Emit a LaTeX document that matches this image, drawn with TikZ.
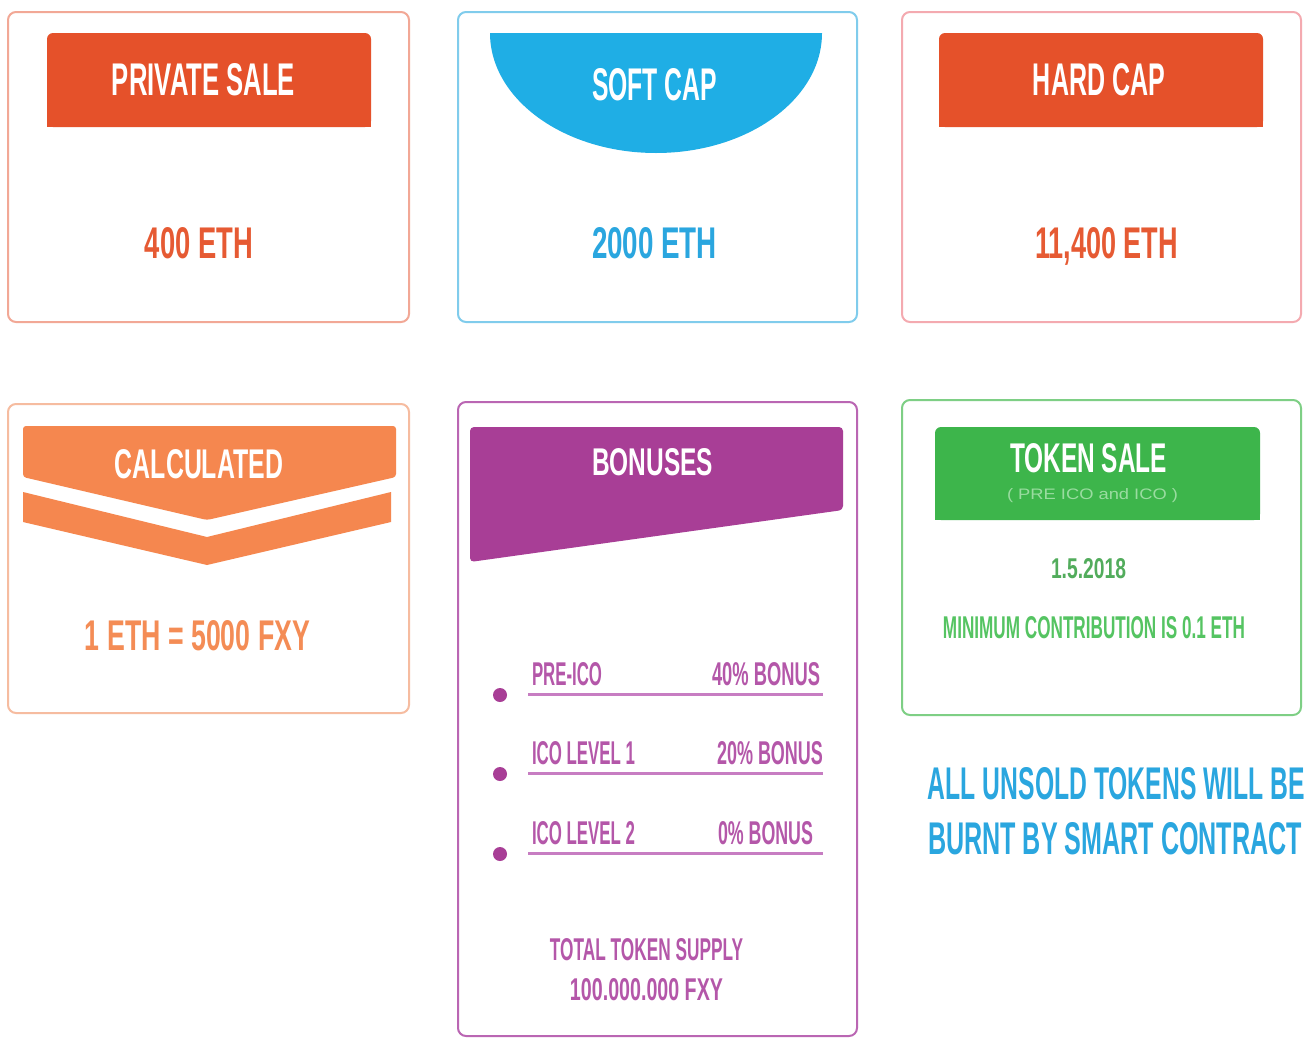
\documentclass[tikz,border=0pt]{standalone}
\usepackage{fontspec}
\setmainfont{Liberation Sans}
\usepackage{graphicx}
\definecolor{redHdr}{HTML}{E5512A}
\definecolor{redTxt}{HTML}{E65A33}
\definecolor{psBorder}{HTML}{F2A896}
\definecolor{hcBorder}{HTML}{F4AAB0}
\definecolor{blueHdr}{HTML}{1FAEE5}
\definecolor{blueTxt}{HTML}{2AA6DF}
\definecolor{scBorder}{HTML}{80CCEC}
\definecolor{calcHdr}{HTML}{F5874F}
\definecolor{calcTxt}{HTML}{F48C55}
\definecolor{clBorder}{HTML}{F6BCA0}
\definecolor{purpHdr}{HTML}{A83E96}
\definecolor{purpTxt}{HTML}{B457A9}
\definecolor{purpLine}{HTML}{C77DC2}
\definecolor{bnBorder}{HTML}{BA66B3}
\definecolor{greenHdr}{HTML}{3DB54B}
\definecolor{greenTxt}{HTML}{52AC5C}
\definecolor{greenTxtB}{HTML}{55C462}
\definecolor{greenSub}{HTML}{9ADCA0}
\definecolor{tsBorder}{HTML}{7ECF85}
\newcommand{\fitt}[3]{\resizebox{#1pt}{#2pt}{#3}}
\begin{document}
\begin{tikzpicture}[x=1pt,y=-1pt,
  txt/.style={inner sep=0pt, outer sep=0pt, anchor=base},
  frame/.style={line width=2pt, rounded corners=8pt, fill=white},
  rowline/.style={draw=purpLine, line width=3pt},
  dot/.style={circle, fill=purpHdr, inner sep=0pt, minimum size=14pt},
]
\useasboundingbox[fill=white] (0,0) rectangle (1306,1039);

% frames
\draw[frame, draw=psBorder] (8,12) rectangle (409,322);
\draw[frame, draw=scBorder] (458,12) rectangle (857,322);
\draw[frame, draw=hcBorder] (902,12) rectangle (1301,322);
\draw[frame, draw=clBorder] (8,404) rectangle (409,713);
\draw[frame, draw=bnBorder] (458,402) rectangle (857,1036);
\draw[frame, draw=tsBorder] (902,400) rectangle (1301,715);

% headers
\fill[redHdr, rounded corners=6pt] (47,33) rectangle (371,127);
\fill[redHdr] (47,60) rectangle (371,127);
\fill[redHdr, rounded corners=6pt] (939,33) rectangle (1263,127);
\fill[redHdr] (939,60) rectangle (1263,127);
\begin{scope}
  \clip (480,33) rectangle (832,170);
  \fill[blueHdr] (656,33) ellipse [x radius=166pt, y radius=120pt];
\end{scope}
\fill[calcHdr, rounded corners=3pt] (23,426) -- (396,426) -- (396,477) -- (207,520) -- (23,477) -- cycle;
\fill[calcHdr] (23,492) -- (207,537) -- (391,492) -- (391,522) -- (207,565) -- (23,522) -- cycle;
\fill[purpHdr, rounded corners=4pt] (470,562) -- (470,427) -- (843,427) -- (843,510) -- cycle;
\fill[greenHdr, rounded corners=6pt] (935,427) rectangle (1260,520);
\fill[greenHdr] (935,460) rectangle (1260,520);

% header texts
\node[txt] (ps) at (203.5,95) {\color{white}\fitt{183}{32}{\bfseries PRIVATE SALE}};
\node[txt] (sc) at (654.5,100) {\color{white}\fitt{125}{32}{\bfseries SOFT CAP}};
\node[txt] (hc) at (1099,95) {\color{white}\fitt{132}{32}{\bfseries HARD CAP}};
\node[txt] (cl) at (199,478) {\color{white}\fitt{168}{29}{\bfseries CALCULATED}};
\node[txt] (bn) at (652.5,475) {\color{white}\fitt{121}{27}{\bfseries BONUSES}};
\node[txt] (ts) at (1088.5,472) {\color{white}\fitt{157}{29}{\bfseries TOKEN SALE}};
\node[txt] (tssub) at (1092.5,499) {\color{greenSub}\fitt{171}{11}{( PRE ICO and ICO )}};

% values
\node[txt] (psv) at (199,258) {\color{redTxt}\fitt{108}{31}{\bfseries 400 ETH}};
\node[txt] (scv) at (654.5,258) {\color{blueTxt}\fitt{125}{31}{\bfseries 2000 ETH}};
\node[txt] (hcv) at (1106.5,258) {\color{redTxt}\fitt{143}{31}{\bfseries 11,400 ETH}};
\node[txt] (clv) at (197.5,650) {\color{calcTxt}\fitt{225}{30}{\bfseries 1 ETH = 5000 FXY}};
\node[txt] (date) at (1088.5,578) {\color{greenTxt}\fitt{75}{20}{\bfseries 1.5.2018}};
\node[txt] (minc) at (1094,638) {\color{greenTxtB}\fitt{302}{22}{\bfseries MINIMUM CONTRIBUTION IS 0.1 ETH}};

% bonus rows
\draw[rowline] (528,694) -- (823,694);
\draw[rowline] (528,773) -- (823,773);
\draw[rowline] (528,853) -- (823,853);
\node[dot] (d1) at (500,695) {};
\node[dot] (d2) at (500,774) {};
\node[dot] (d3) at (500,854) {};
\node[txt, anchor=base west] (r1l) at (532,685) {\color{purpTxt}\fitt{70}{23}{\bfseries PRE-ICO}};
\node[txt, anchor=base east] (r1r) at (820,685) {\color{purpTxt}\fitt{108}{23}{\bfseries 40\% BONUS}};
\node[txt, anchor=base west] (r2l) at (532,764) {\color{purpTxt}\fitt{103}{23}{\bfseries ICO LEVEL 1}};
\node[txt, anchor=base east] (r2r) at (823,764) {\color{purpTxt}\fitt{106}{23}{\bfseries 20\% BONUS}};
\node[txt, anchor=base west] (r3l) at (532,844) {\color{purpTxt}\fitt{103}{23}{\bfseries ICO LEVEL 2}};
\node[txt, anchor=base east] (r3r) at (813,844) {\color{purpTxt}\fitt{95}{23}{\bfseries 0\% BONUS}};
\node[txt] (tot1) at (646.5,960) {\color{purpTxt}\fitt{193}{22}{\bfseries TOTAL TOKEN SUPPLY}};
\node[txt] (tot2) at (646.5,1000) {\color{purpTxt}\fitt{153}{22}{\bfseries 100.000.000 FXY}};

% statement
\node[txt] (burn1) at (1116.5,799) {\color{blueTxt}\fitt{377}{32}{\bfseries ALL UNSOLD TOKENS WILL BE}};
\node[txt] (burn2) at (1115,854) {\color{blueTxt}\fitt{374}{32}{\bfseries BURNT BY SMART CONTRACT}};
\end{tikzpicture}
\end{document}
